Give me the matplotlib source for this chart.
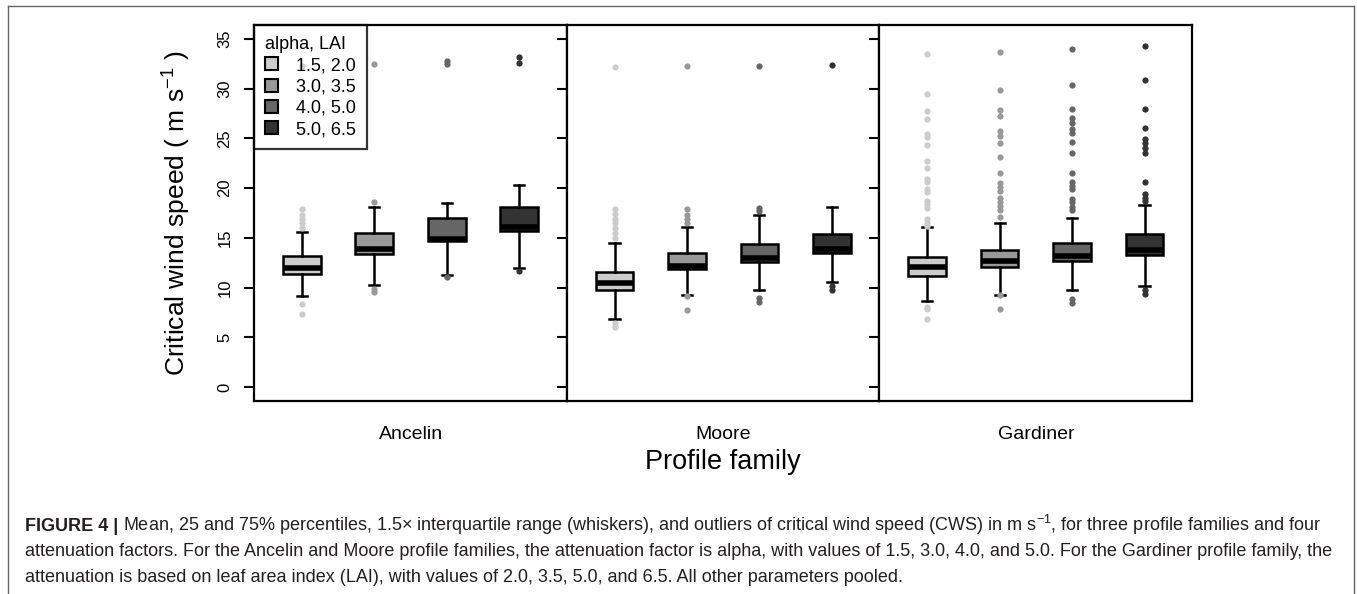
import matplotlib
matplotlib.use("Agg")
import matplotlib.pyplot as plt
from matplotlib.patches import Patch
from matplotlib.lines import Line2D

plt.rcParams['font.family'] = ['Liberation Sans', 'DejaVu Sans']
plt.rcParams['mathtext.fontset'] = 'custom'
plt.rcParams['mathtext.rm'] = 'Liberation Sans'
plt.rcParams['mathtext.it'] = 'Liberation Sans:italic'

families = ["Ancelin", "Moore", "Gardiner"]
levels = ["1.5, 2.0", "3.0, 3.5", "4.0, 5.0", "5.0, 6.5"]
colors = ["#cccccc", "#999999", "#666666", "#333333"]

# box statistics per family (rows) and attenuation level (columns)
q1 = [[11.4, 13.35, 14.65, 15.7],
      [9.75, 11.85, 12.6, 13.45],
      [11.2, 12.1, 12.65, 13.25]]
med = [[12.0, 13.9, 14.9, 16.05],
       [10.5, 12.15, 12.95, 13.85],
       [12.1, 12.65, 13.15, 13.8]]
q3 = [[13.2, 15.45, 16.95, 18.15],
      [11.6, 13.5, 14.4, 15.35],
      [13.1, 13.8, 14.5, 15.35]]
whislo = [[9.15, 10.3, 11.3, 12.0],
          [6.85, 9.3, 9.8, 10.55],
          [8.65, 9.3, 9.75, 10.15]]
whishi = [[15.6, 18.1, 18.5, 20.3],
          [14.45, 16.1, 17.25, 18.15],
          [16.1, 16.5, 16.95, 18.3]]
fliers = [
    [[17.9, 17.3, 16.9, 16.5, 16.0, 8.4, 7.3, 32.3],
     [18.65, 9.9, 9.55, 32.5],
     [11.05, 32.8, 32.5],
     [11.65, 33.2, 32.55]],
    [[17.9, 17.4, 16.9, 16.5, 16.0, 15.5, 15.0, 6.45, 6.05, 32.2],
     [17.9, 17.3, 16.9, 16.5, 9.15, 7.75, 32.3],
     [18.05, 17.7, 8.95, 8.6, 32.3],
     [10.2, 9.8, 32.4]],
    [[33.5, 29.5, 27.8, 27.0, 25.4, 25.1, 24.3, 22.7, 22.0, 20.9, 20.6,
      19.9, 19.6, 18.7, 18.4, 18.0, 16.9, 16.5, 16.2, 8.1, 7.8, 6.85],
     [33.7, 29.9, 27.9, 27.3, 25.7, 25.2, 24.5, 23.15, 21.5, 20.5, 20.1,
      19.7, 19.0, 18.65, 18.2, 17.8, 17.1, 9.3, 7.8],
     [34.0, 30.4, 28.0, 27.1, 26.55, 25.9, 25.5, 24.6, 23.5, 21.5, 20.6,
      20.2, 19.9, 18.95, 18.6, 18.15, 17.8, 8.9, 8.5],
     [34.3, 30.9, 28.0, 26.0, 24.9, 24.5, 24.0, 23.5, 20.6, 19.4, 19.05,
      18.7, 9.75, 9.4]],
]
yticks = [0, 5, 10, 15, 20, 25, 30, 35]

fig = plt.figure(figsize=(13.57, 5.94), dpi=100)
axes = fig.subplots(1, 3, sharey=True)
fig.subplots_adjust(left=0.1872, right=0.8784, bottom=0.3249, top=0.9579,
                    wspace=0)

for f, ax in enumerate(axes):
    stats = []
    for i in range(4):
        stats.append(dict(q1=q1[f][i], med=med[f][i], q3=q3[f][i],
                          whislo=whislo[f][i], whishi=whishi[f][i],
                          fliers=fliers[f][i]))
    res = ax.bxp(stats, positions=[1, 2, 3, 4], widths=0.52,
                 capwidths=0.14, patch_artist=True,
                 boxprops=dict(edgecolor='black', linewidth=1.8),
                 medianprops=dict(color='black', linewidth=4,
                                  solid_capstyle='butt'),
                 whiskerprops=dict(color='black', linewidth=1.8),
                 capprops=dict(color='black', linewidth=1.8),
                 flierprops=dict(marker='o', markersize=4.5,
                                 markeredgewidth=0, linestyle='none'))
    for i in range(4):
        res['boxes'][i].set_facecolor(colors[i])
        res['fliers'][i].set_markerfacecolor(colors[i])
    ax.set_xlim(0.34, 4.655)
    ax.set_ylim(-1.4, 36.4)
    ax.set_xticks([2.5])
    ax.set_xticklabels([families[f]], fontsize=14)
    ax.tick_params(axis='x', length=0, pad=18)
    ax.tick_params(axis='y', direction='out', length=7.5, width=1.5,
                   labelsize=12, pad=8, labelleft=(f == 0))
    for s in ax.spines.values():
        s.set_linewidth(1.6)

axes[0].set_yticks(yticks)
for lab in axes[0].get_yticklabels():
    lab.set_rotation(90)
    lab.set_va('center')

fig.text(177 / 1357, 0.641, r"Critical wind speed ( m s$^{-1}$ )",
         rotation=90, ha='center', va='center', fontsize=19)
fig.text(0.5328, 1 - 462 / 594, "Profile family", ha='center', va='center',
         fontsize=19.5)

handles = [Patch(facecolor=c, edgecolor='black', linewidth=1.5) for c in colors]
leg = axes[0].legend(handles, levels, title="alpha, LAI", loc='upper left',
                     bbox_to_anchor=(0, 1), borderaxespad=0, fontsize=13,
                     title_fontsize=13, alignment='left', fancybox=False,
                     handlelength=0.75, handleheight=0.75, handletextpad=1.0,
                     labelspacing=0.24, borderpad=0.6)
leg.get_frame().set_edgecolor('black')
leg.get_frame().set_linewidth(1.6)
leg.get_frame().set_facecolor('none')

# outer frame of the figure panel
frame_kw = dict(color='#666666', linewidth=1, transform=fig.transFigure)
fig.add_artist(Line2D([8 / 1357, 1354 / 1357], [1 - 6 / 594, 1 - 6 / 594], **frame_kw))
fig.add_artist(Line2D([8 / 1357, 8 / 1357], [0, 1 - 6 / 594], **frame_kw))
fig.add_artist(Line2D([1354 / 1357, 1354 / 1357], [0, 1 - 6 / 594], **frame_kw))

# caption
cap_size = 13
cap_color = '#231f20'
x0 = 25 / 1357
bold = fig.text(x0, 1 - 531 / 594, "FIGURE 4 |", fontsize=cap_size,
                fontweight='bold', color=cap_color, va='baseline')
fig.canvas.draw()
bb = bold.get_window_extent()
fig.text(bb.x1 / fig.bbox.width, 1 - 531 / 594,
         " Mean, 25 and 75% percentiles, 1.5\u00d7 interquartile range "
         "(whiskers), and outliers of critical wind speed (CWS) in m s$^{-1}$, "
         "for three profile families and four",
         fontsize=cap_size, color=cap_color, va='baseline')
fig.text(x0, 1 - 556.5 / 594,
         "attenuation factors. For the Ancelin and Moore profile families, the "
         "attenuation factor is alpha, with values of 1.5, 3.0, 4.0, and 5.0. "
         "For the Gardiner profile family, the",
         fontsize=cap_size, color=cap_color, va='baseline')
fig.text(x0, 1 - 582 / 594,
         "attenuation is based on leaf area index (LAI), with values of 2.0, "
         "3.5, 5.0, and 6.5. All other parameters pooled.",
         fontsize=cap_size, color=cap_color, va='baseline')

fig.savefig("out.png", dpi=100)
